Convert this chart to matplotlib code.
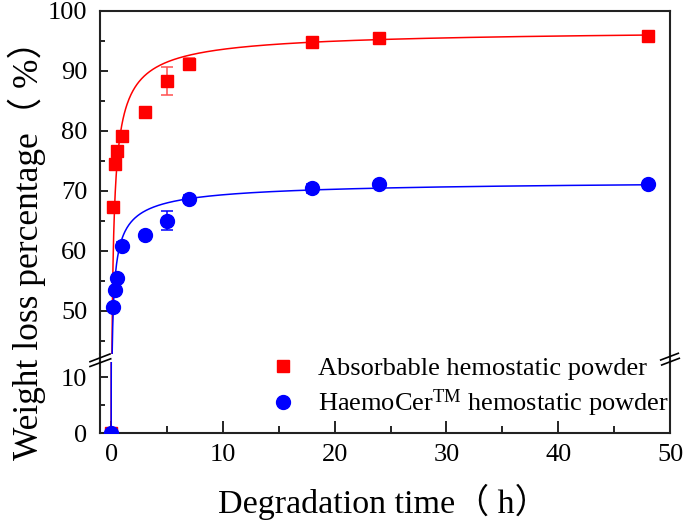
import numpy as np
import matplotlib
matplotlib.use("Agg")
import matplotlib.pyplot as plt
from matplotlib.lines import Line2D

plt.rcParams['font.family'] = ['Liberation Serif', 'Noto Sans CJK SC', 'DejaVu Sans']
plt.rcParams['mathtext.fontset'] = 'custom'
plt.rcParams['mathtext.rm'] = 'Liberation Serif'
plt.rcParams['mathtext.it'] = 'Liberation Serif:italic'

# ---- data ----
time_red = [0, 0.17, 0.33, 0.5, 1, 3, 5, 7, 18, 24, 48]
loss_red = [0, 67.3, 74.4, 76.7, 79.2, 83.2, 88.3, 91.2, 94.8, 95.5, 95.8]
err_red = [0, 0.3, 0.4, 0.5, 0.6, 0.4, 2.3, 0.9, 0.5, 0.4, 0.4]

time_blue = [0, 0.17, 0.33, 0.5, 1, 3, 5, 7, 18, 24, 48]
loss_blue = [0, 50.6, 53.4, 55.4, 60.8, 62.7, 65.0, 68.6, 70.4, 71.2, 71.1]
err_blue = [0, 0.3, 0.3, 0.4, 0.7, 0.4, 1.6, 0.7, 0.8, 0.5, 0.4]

# fitted (Hill-type) curve parameters: y = a / (1 + c * x**(-n))
fit_red = dict(a=97.18, c=0.1935, n=0.7)
fit_blue = dict(a=72.11, c=0.1597, n=0.6)

label_red = 'Absorbable hemostatic powder'
label_blue = r'HaemoCer$^{\mathrm{TM}}$ hemostatic powder'

RED = '#FF0000'
BLUE = '#0000FF'

def hill(x, a, c, n):
    x = np.asarray(x, dtype=float)
    out = np.zeros_like(x)
    m = x > 0
    out[m] = a / (1.0 + c * x[m] ** (-n))
    return out

xfit = np.concatenate([np.linspace(0, 1, 2000), np.linspace(1, 48.5, 800)])

W, H = 684, 527
fig = plt.figure(figsize=(W / 100, H / 100), dpi=100)

def fx(px):
    return px / W

def fy(py):
    return 1 - py / H

L, R = 100, 670
top_up, bot_up = 10.7, 354
top_lo, bot_lo = 362, 433

ax_up = fig.add_axes([fx(L), fy(bot_up), fx(R - L), fy(top_up) - fy(bot_up)])
ax_lo = fig.add_axes([fx(L), fy(bot_lo), fx(R - L), fy(top_lo) - fy(bot_lo)])

for ax in (ax_up, ax_lo):
    ax.plot(xfit, hill(xfit, **fit_red), color=RED, lw=1.1, zorder=2)
    ax.plot(xfit, hill(xfit, **fit_blue), color=BLUE, lw=1.1, zorder=2)
    ax.errorbar(time_red, loss_red, yerr=err_red, fmt='s', color=RED, ms=9,
                ecolor='#FF5050', elinewidth=1.1, capsize=4, capthick=1.1, zorder=3)
    ax.errorbar(time_blue, loss_blue, yerr=err_blue, fmt='o', color=BLUE, ms=10,
                ecolor=BLUE, elinewidth=1.1, capsize=4, capthick=1.1, zorder=4)
    ax.set_xlim(-1, 50)
    ax.tick_params(which='both', direction='in', labelsize=19, width=1.2)
    ax.tick_params(axis='y', which='major', length=6, pad=9)
    ax.tick_params(axis='y', which='minor', length=3.5)
    for s in ax.spines.values():
        s.set_linewidth(1.5)
        s.set_color('#222222')

ax_up.set_ylim(42.8, 100)
ax_up.set_yticks([50, 60, 70, 80, 90, 100])
ax_up.set_yticks([45, 55, 65, 75, 85, 95], minor=True)
ax_up.spines['bottom'].set_visible(False)
ax_up.tick_params(axis='x', which='both', bottom=False, labelbottom=False)

ax_lo.set_ylim(0, 12.7)
ax_lo.set_yticks([0, 10])
ax_lo.set_yticks([5], minor=True)
ax_lo.spines['top'].set_visible(False)
ax_lo.set_xticks([0, 10, 20, 30, 40, 50])
ax_lo.set_xticks([5, 15, 25, 35, 45], minor=True)
ax_lo.tick_params(axis='x', which='major', length=9, pad=8)
ax_lo.tick_params(axis='x', which='minor', length=5)

# continuous spines through the gap
for xpx in (L, R):
    fig.add_artist(Line2D([fx(xpx), fx(xpx)], [fy(bot_up), fy(top_lo)],
                          color='#222222', lw=1.5))
# break marks
for (x0, y0, x1, y1) in [(90, 361.7, 110, 354), (90, 366.5, 110.7, 358.8),
                         (660.7, 360, 678.3, 353.3), (661.7, 365, 679.3, 358.3)]:
    fig.add_artist(Line2D([fx(x0), fx(x1)], [fy(y0), fy(y1)], color='black', lw=1.2))

legend_handles = [
    Line2D([], [], marker='s', color=RED, ls='none', ms=9),
    Line2D([], [], marker='o', color=BLUE, ls='none', ms=10),
]
fig.legend(legend_handles, [label_red, label_blue], loc='center left',
           bbox_to_anchor=(fx(257), fy(388)), frameon=False, fontsize=19,
           handletextpad=0.7, labelspacing=0.3, handlelength=1.2, borderaxespad=0)

fig.text(fx(27), fy(242), 'Weight loss percentage（ %）', rotation=90,
         ha='center', va='center', fontsize=25.5)
fig.text(fx(383), fy(502), 'Degradation time（ h）', ha='center', va='center',
         fontsize=24.5)

fig.savefig('out.png', dpi=100)
